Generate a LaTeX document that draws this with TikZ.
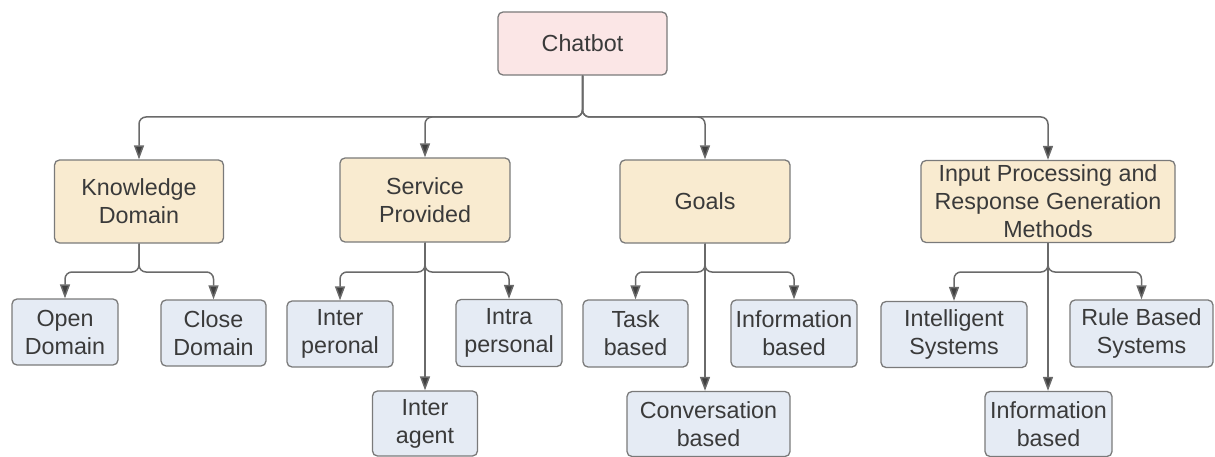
\documentclass[tikz,border=0pt]{standalone}
\usepackage{fontspec}
\setmainfont{Liberation Sans}
\usetikzlibrary{arrows.meta}

\definecolor{rootfill}{HTML}{FBE6E6}
\definecolor{midfill}{HTML}{F9EBD0}
\definecolor{leaffill}{HTML}{E5EBF4}
\definecolor{boxline}{HTML}{7A7A7A}
\definecolor{wire}{HTML}{6A6A6A}
\definecolor{tip}{HTML}{404040}
\definecolor{ink}{HTML}{3A3A3A}

\tikzset{
  box/.style={draw=boxline, line width=1.3pt, rounded corners=5pt, inner sep=0pt,
    align=center, text=ink,
    font=\fontsize{23.3pt}{28pt}\selectfont},
  rootbox/.style={box, fill=rootfill},
  midbox/.style={box, fill=midfill},
  leafbox/.style={box, fill=leaffill},
  conn/.style={draw=wire, line width=1.5pt, rounded corners=7pt,
    -{Triangle[length=14pt,width=10pt,fill=tip]}},
}

\begin{document}
\begin{tikzpicture}[x=1pt, y=-1pt]
  \useasboundingbox (0,0) rectangle (1215,457);

  % root
  \node[rootbox, minimum width=169pt, minimum height=63pt] (chat) at (582.5,43.5) {Chatbot};

  % first level
  \node[midbox, minimum width=169pt, minimum height=83pt] (know) at (139,201.5) {Knowledge\\Domain};
  \node[midbox, minimum width=170pt, minimum height=84pt] (serv) at (425,200) {Service\\Provided};
  \node[midbox, minimum width=170pt, minimum height=83pt] (goal) at (705,201.5) {Goals};
  \node[midbox, minimum width=254pt, minimum height=82pt] (meth) at (1048,201.5) {Input Processing and\\Response Generation\\Methods};

  % second level
  \node[leafbox, minimum width=106pt, minimum height=66pt] (open)  at (65,332)    {Open\\Domain};
  \node[leafbox, minimum width=105pt, minimum height=66pt] (close) at (213.5,333) {Close\\Domain};
  \node[leafbox, minimum width=106pt, minimum height=66pt] (inter) at (340,334)   {Inter\\peronal};
  \node[leafbox, minimum width=106pt, minimum height=67pt] (intra) at (509,333)   {Intra\\personal};
  \node[leafbox, minimum width=105pt, minimum height=67pt] (task)  at (635.5,333.5) {Task\\based};
  \node[leafbox, minimum width=126pt, minimum height=67pt] (infoA) at (794,333.5)  {Information\\based};
  \node[leafbox, minimum width=146pt, minimum height=66pt] (intel) at (954,334.5)  {Intelligent\\Systems};
  \node[leafbox, minimum width=143pt, minimum height=67pt] (rule)  at (1141.5,333.5) {Rule Based\\Systems};

  % third level
  \node[leafbox, minimum width=105pt, minimum height=65pt] (agent) at (425,423.5) {Inter\\agent};
  \node[leafbox, minimum width=163pt, minimum height=65pt] (conv)  at (708.5,424)   {Conversation\\based};
  \node[leafbox, minimum width=127pt, minimum height=65pt] (infoB) at (1048.5,424)  {Information\\based};

  % bus heights
  \coordinate (busTop) at (0,117);
  \coordinate (busSub) at (0,272);

  % root to first level
  \foreach \c in {know,serv,goal,meth}
    \draw[conn] (chat.south) -- (chat.south |- busTop) -- (\c.north |- busTop) -- (\c.north);

  % knowledge domain
  \foreach \c in {open,close}
    \draw[conn] (know.south) -- (know.south |- busSub) -- (\c.north |- busSub) -- (\c.north);

  % service provided
  \foreach \c in {inter,intra}
    \draw[conn] (serv.south) -- (serv.south |- busSub) -- (\c.north |- busSub) -- (\c.north);
  \draw[conn] (serv.south) -- (serv.south |- agent.north);

  % goals
  \foreach \c in {task,infoA}
    \draw[conn] (goal.south) -- (goal.south |- busSub) -- (\c.north |- busSub) -- (\c.north);
  \draw[conn] (goal.south) -- (goal.south |- conv.north);

  % methods
  \foreach \c in {intel,rule}
    \draw[conn] (meth.south) -- (meth.south |- busSub) -- (\c.north |- busSub) -- (\c.north);
  \draw[conn] (meth.south) -- (meth.south |- infoB.north);
\end{tikzpicture}
\end{document}
